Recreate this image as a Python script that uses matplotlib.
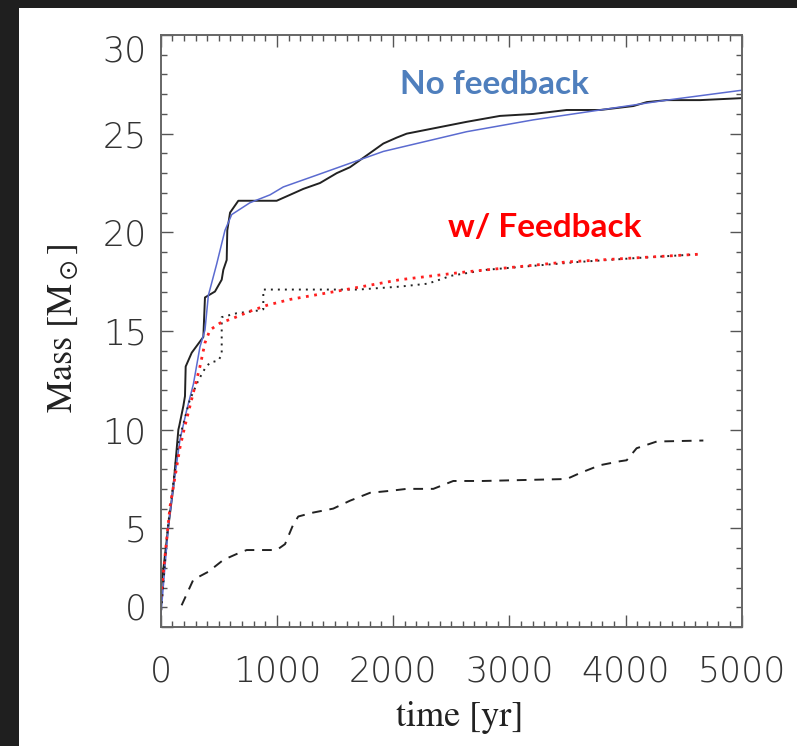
import matplotlib
matplotlib.use("Agg")
import matplotlib.pyplot as plt
from matplotlib.patches import Rectangle
from matplotlib.ticker import MultipleLocator

plt.rcParams['mathtext.fontset'] = 'stix'

# simulation, no feedback (solid black)
t_nofb = [0, 8, 66, 109, 152, 160, 195, 209, 215, 267, 367, 381, 467, 525, 539, 568, 573,
          597, 668, 740, 998, 1113, 1227, 1371, 1515, 1629, 1773, 1916, 2031, 2117, 2289,
          2375, 2633, 2920, 3207, 3494, 3781, 4068, 4183, 4355, 4641, 5000]
m_nofb = [0.3, 2.2, 5.1, 7.1, 10.0, 10.2, 11.2, 11.7, 13.2, 13.9, 14.7, 16.7, 17.0, 17.6, 18.1,
          18.6, 20.1, 21.0, 21.6, 21.6, 21.6, 21.9, 22.2, 22.5, 23.0, 23.3, 23.9, 24.5, 24.8,
          25.0, 25.2, 25.3, 25.6, 25.9, 26.0, 26.2, 26.2, 26.4, 26.6, 26.7, 26.7, 26.8]

# fit, no feedback (blue)
t_fit = [0, 66, 109, 166, 224, 281, 338, 381, 410, 482, 553, 611, 768, 941, 1055, 1343,
         1629, 1916, 2203, 2490, 2633, 3207, 3781, 4355, 5000]
m_fit = [0.5, 5.1, 7.1, 9.5, 11.0, 12.3, 14.2, 15.05, 16.8, 18.4, 20.1, 20.9, 21.5, 21.9,
         22.3, 22.9, 23.5, 24.1, 24.5, 24.9, 25.1, 25.7, 26.2, 26.7, 27.2]

# fit, with feedback (red dotted)
t_fitfb = [0, 8, 80, 166, 209, 252, 295, 338, 381, 424, 510, 625, 768, 912, 1113, 1500,
           2059, 2633, 3494, 4068, 4656]
m_fitfb = [1.5, 1.9, 6.1, 9.1, 10.2, 11.2, 12.2, 13.2, 14.4, 15.05, 15.4, 15.65, 16.0, 16.3,
           16.6, 17.0, 17.6, 18.0, 18.5, 18.7, 18.9]

# simulation, with feedback (black dotted)
t_fb = [0, 60, 150, 250, 324, 381, 424, 496, 525, 525, 654, 855, 883, 883, 1300, 1700,
        2059, 2300, 2500, 2800, 3200, 3600, 4100, 4656]
m_fb = [0.5, 5.0, 9.3, 11.5, 12.5, 13.1, 13.4, 13.5, 13.8, 15.7, 15.9, 16.05, 16.1, 17.1,
        17.1, 17.1, 17.25, 17.4, 17.8, 18.1, 18.3, 18.5, 18.7, 18.9]

# dashed black
t_dash = [180, 281, 410, 539, 654, 740, 998, 1070, 1141, 1184, 1313, 1485, 1629, 1801,
          1973, 2117, 2346, 2518, 2776, 3494, 3608, 3781, 3953, 4010, 4096, 4269, 4670]
m_dash = [1.1, 2.4, 2.8, 3.4, 3.7, 3.9, 3.9, 4.2, 5.2, 5.6, 5.8, 6.0, 6.4, 6.8, 6.9, 7.0,
          7.0, 7.4, 7.4, 7.5, 7.8, 8.2, 8.4, 8.45, 9.06, 9.4, 9.45]

fig = plt.figure(figsize=(7.97, 7.46), dpi=100)
fig.patch.set_facecolor('#1f1f1f')
fig.patches.append(Rectangle((19 / 797, 0), 1, (746 - 8) / 746, transform=fig.transFigure,
                             facecolor='white', edgecolor='none', zorder=-10))

ax = fig.add_axes([160.7 / 797, (746 - 627) / 746, 581 / 797, 592 / 746])
ax.plot(t_nofb, m_nofb, color='#222222', lw=1.4)
ax.plot(t_fit, m_fit, color='#5b6bd0', lw=1.1)
ax.plot(t_fb, m_fb, color='#222222', lw=1.4, ls=(0, (1, 2.6)))
ax.plot(t_fitfb, m_fitfb, color='#ff2020', lw=2.0, ls=(0, (1, 2.0)))
ax.plot(t_dash, m_dash, color='#222222', lw=1.4, ls=(0, (5, 4)))

ax.set_xlim(0, 5000)
ax.set_ylim(0, 30)
ax.xaxis.set_major_locator(MultipleLocator(1000))
ax.xaxis.set_minor_locator(MultipleLocator(100))
ax.yaxis.set_major_locator(MultipleLocator(5))
ax.yaxis.set_minor_locator(MultipleLocator(1))
ax.tick_params(which='both', direction='in', top=True, right=True, color='#555555', width=1.0)
ax.tick_params(which='major', length=8.5)
ax.tick_params(which='minor', length=4.3)
ax.tick_params(axis='x', which='major', pad=20, labelsize=25, labelcolor='#333333')
ax.tick_params(axis='y', which='major', pad=10, labelsize=25, labelcolor='#333333')
for s in ax.spines.values():
    s.set_color('#666666')
    s.set_linewidth(1.4)

fig.text(64 / 797, 1 - 328 / 746, r'Mass [M$_\odot$]', rotation=90,
         ha='center', va='center', fontsize=26, family='STIXGeneral', color='#222222')
fig.text(460 / 797, 1 - 717 / 746, 'time [yr]', ha='center', va='center', fontsize=26,
         family='STIXGeneral', color='#222222')

ax.text(2868, 27.47, 'No feedback', color='#4f7fbd', fontsize=24, fontweight='bold',
        family='Lato', ha='center', va='center')
ax.text(3307, 20.22, 'w/ Feedback', color='#ff0000', fontsize=24, fontweight='bold',
        family='Lato', ha='center', va='center')

# end labels of the y axis sit inside the axis range
fig.canvas.draw()
for lab in ax.get_xticklabels() + ax.get_yticklabels():
    lab.set_fontfamily('DejaVu Sans')
    lab.set_fontweight('light')
for lab in ax.get_yticklabels():
    if lab.get_text() == '30':
        lab.set_verticalalignment('top')
    elif lab.get_text() == '0':
        lab.set_verticalalignment('bottom')

fig.savefig('out.png', dpi=100, facecolor=fig.get_facecolor())
